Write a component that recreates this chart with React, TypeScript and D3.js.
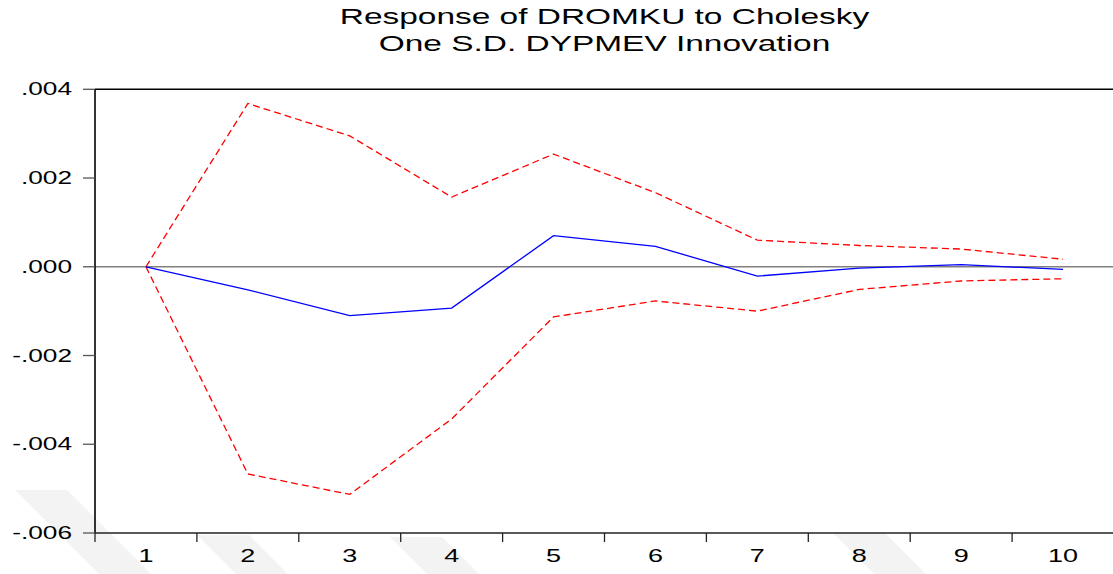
import React from "react";
import * as d3 from "d3";

const periods = ["1", "2", "3", "4", "5", "6", "7", "8", "9", "10"];
const response = [0, -0.00052, -0.0011, -0.00093, 0.0007, 0.00046, -0.00021, -0.00003, 0.00005, -0.00006];
const upperBand = [0, 0.00368, 0.00295, 0.00157, 0.00254, 0.00167, 0.0006, 0.00048, 0.0004, 0.00017];
const lowerBand = [0, -0.00467, -0.00513, -0.00343, -0.00113, -0.00077, -0.001, -0.00051, -0.00032, -0.00027];
const yTickValues = [0.004, 0.002, 0, -0.002, -0.004, -0.006];
const yTickLabels = [".004", ".002", ".000", "-.002", "-.004", "-.006"];
const titleLines = ["Response of DROMKU to Cholesky", "One S.D. DYPMEV Innovation"];
// faint watermark stripes (left x at top, top y)
const stripeStarts = [
  [15, 490],
  [197, 535],
  [390, 537],
  [833, 533],
];

const W = 1113;
const H = 574;
const left = 95;
const right = 1114;
const top = 89.3;
const bottom = 533;
const SX = 1.5;
const FONT = "'Liberation Sans', Arial, sans-serif";

export default function App() {
  const x = d3.scaleBand<string>().domain(periods).range([left, right]).padding(0);
  const y = d3.scaleLinear().domain([-0.006, 0.004]).range([bottom, top]);
  const cx = (i: number) => (x(periods[i]) as number) + x.bandwidth() / 2;
  const line = d3
    .line<number>()
    .x((_, i) => cx(i))
    .y((d) => y(d));

  const boundaries = periods.map((p) => x(p) as number);

  return (
    <svg
      width={W}
      height={H}
      style={{ position: "absolute", left: 0, top: 0, background: "#fff" }}
      fontFamily={FONT}
    >
      <rect x={0} y={0} width={W} height={H} fill="#fff" />
      {stripeStarts.map(([sx, sy], i) => {
        const d = H - sy;
        return (
          <polygon
            key={i}
            points={`${sx},${sy} ${sx + 52},${sy} ${sx + 52 + d},${H} ${sx + d},${H}`}
            fill="#f3f3f3"
          />
        );
      })}
      {/* title */}
      {titleLines.map((t, i) => (
        <text
          key={t}
          transform={`translate(${(left + right) / 2},${24 + i * 26.5}) scale(${SX},1)`}
          textAnchor="middle"
          fontSize={22.3}
          fill="#000"
        >
          {t}
        </text>
      ))}
      {/* zero line */}
      <line x1={left} x2={right} y1={y(0)} y2={y(0)} stroke="#808080" strokeWidth={1.6} />
      {/* frame */}
      <line x1={left} x2={right} y1={top} y2={top} stroke="#000" strokeWidth={1.6} />
      <line x1={left} x2={left} y1={top} y2={bottom} stroke="#000" strokeWidth={1.6} />
      <line x1={left} x2={right} y1={bottom} y2={bottom} stroke="#222" strokeWidth={1.6} />
      {/* y ticks */}
      {yTickValues.map((v, i) => (
        <g key={v}>
          <line x1={83} x2={left} y1={y(v)} y2={y(v)} stroke="#555" strokeWidth={1.3} />
          <text
            transform={`translate(72,${y(v) + 6}) scale(${SX},1)`}
            textAnchor="end"
            fontSize={17.5}
            fill="#000"
          >
            {yTickLabels[i]}
          </text>
        </g>
      ))}
      {/* x ticks */}
      {boundaries.map((b, i) => (
        <line key={i} x1={b} x2={b} y1={bottom} y2={bottom + 9} stroke="#222" strokeWidth={1.3} />
      ))}
      {periods.map((p, i) => (
        <text
          key={p}
          transform={`translate(${cx(i)},${562}) scale(${SX},1)`}
          textAnchor="middle"
          fontSize={18}
          fill="#000"
        >
          {p}
        </text>
      ))}
      {/* bands */}
      <path d={line(upperBand) || ""} fill="none" stroke="#ff0000" strokeWidth={1.3} strokeDasharray="7,4" />
      <path d={line(lowerBand) || ""} fill="none" stroke="#ff0000" strokeWidth={1.3} strokeDasharray="7,4" />
      <path d={line(response) || ""} fill="none" stroke="#0000ff" strokeWidth={1.3} />
    </svg>
  );
}
